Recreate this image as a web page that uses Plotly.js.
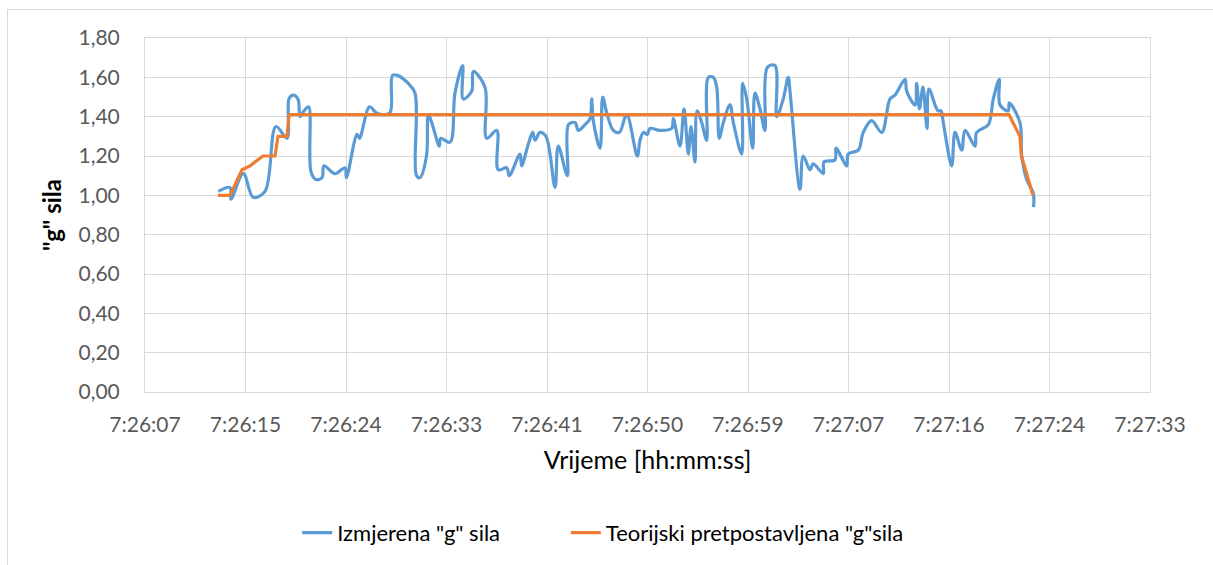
<!DOCTYPE html>
<html>
<head>
<meta charset="utf-8">
<script src="https://cdn.plot.ly/plotly-3.0.1.min.js"></script>
<style>
  html, body { margin: 0; padding: 0; background: #fff; }
  #wrap { position: relative; width: 1213px; height: 565px; overflow: hidden; }
  #chart { width: 1213px; height: 565px; }
  #frame { position: absolute; left: 7px; top: 9px; width: 1300px; height: 700px;
           border-left: 1px solid #D9D9D9; border-top: 1px solid #D9D9D9; pointer-events: none; }
</style>
</head>
<body>
<div id="wrap">
  <div id="chart"></div>
  <div id="frame"></div>
</div>
<script>
// Times are seconds after 7:26:00
const measuredTime = [13.02,14.03,14.11,15.17,16.03,17.04,17.98,18.93,19.10,19.44,19.87,20.05,20.39,20.78,20.99,21.42,21.94,22.11,23.05,23.91,24.04,24.95,25.16,26.02,26.58,27.09,27.78,28.00,28.43,29.33,29.93,30.06,30.36,30.92,31.08,31.37,32.02,32.14,32.94,33.37,34.03,34.08,34.81,34.94,35.95,36.10,36.96,37.09,37.82,38.04,38.96,39.10,39.67,40.05,40.25,40.68,41.19,41.97,42.25,43.03,43.13,43.69,43.97,44.55,44.98,45.12,45.26,45.84,46.07,46.41,46.98,47.50,48.13,49.04,49.28,49.56,49.90,50.13,50.99,52.00,52.14,52.71,53.06,53.43,53.66,54.00,54.18,54.58,55.01,55.15,55.58,55.87,56.09,56.44,57.01,57.30,58.02,58.10,58.45,58.96,59.16,59.59,60.02,60.22,60.88,61.03,61.59,62.02,62.17,63.03,63.31,63.89,64.17,65.03,65.10,66.04,66.13,67.05,67.18,68.04,68.47,69.19,70.05,70.77,71.20,72.06,72.20,72.92,73.06,73.30,73.60,73.95,74.12,74.89,75.15,75.35,76.07,76.36,76.93,77.22,78.08,78.22,79.22,79.65,80.16,80.22,80.94,81.02,81.94,82.09,82.52,83.09,83.11];
const measuredG = [1.02,1.04,0.98,1.11,0.99,1.02,1.35,1.29,1.49,1.51,1.49,1.40,1.43,1.45,1.12,1.08,1.09,1.15,1.11,1.14,1.09,1.31,1.29,1.45,1.42,1.41,1.42,1.61,1.61,1.57,1.52,1.10,1.09,1.20,1.41,1.37,1.25,1.29,1.27,1.52,1.66,1.49,1.53,1.63,1.55,1.29,1.33,1.13,1.14,1.10,1.21,1.15,1.26,1.32,1.28,1.32,1.30,1.04,1.25,1.10,1.36,1.37,1.33,1.36,1.39,1.49,1.38,1.24,1.50,1.42,1.33,1.32,1.41,1.20,1.28,1.32,1.31,1.34,1.33,1.34,1.39,1.25,1.44,1.21,1.35,1.17,1.43,1.37,1.28,1.60,1.60,1.55,1.29,1.37,1.46,1.37,1.21,1.57,1.49,1.24,1.52,1.44,1.33,1.65,1.66,1.40,1.49,1.60,1.53,1.03,1.20,1.13,1.16,1.11,1.17,1.18,1.24,1.15,1.21,1.23,1.32,1.38,1.32,1.49,1.51,1.59,1.53,1.46,1.57,1.44,1.55,1.34,1.54,1.43,1.43,1.37,1.15,1.32,1.23,1.33,1.25,1.32,1.36,1.49,1.59,1.46,1.43,1.47,1.37,1.20,1.08,1.01,0.94];

const theoryTime = [13.00,14.03,15.06,15.75,16.86,17.90,18.15,18.93,19.10,81.00,81.94,82.07,83.06];
const theoryG    = [1.00,1.00,1.13,1.15,1.20,1.20,1.30,1.30,1.41,1.41,1.30,1.20,1.00];

// Excel ticks every 0.0001 day, starting at 0.3098 day (7:26:06.72)
const tickSeconds = [6.72,15.36,24.00,32.64,41.28,49.92,58.56,67.20,75.84,84.48,93.12];
const tickLabels  = ["7:26:07","7:26:15","7:26:24","7:26:33","7:26:41","7:26:50","7:26:59","7:27:07","7:27:16","7:27:24","7:27:33"];

const seriesNames = ['Izmjerena "g" sila', 'Teorijski pretpostavljena "g"sila'];

const FONT = 'Lato, "Open Sans", sans-serif';

const traces = [
  { x: measuredTime, y: measuredG, name: seriesNames[0], type: 'scatter', mode: 'lines', legend: 'legend',
    line: { color: '#5B9BD5', width: 3.2, shape: 'spline', smoothing: 1 } },
  { x: theoryTime, y: theoryG, name: seriesNames[1], type: 'scatter', mode: 'lines', legend: 'legend2',
    line: { color: '#ED7D31', width: 3.2, shape: 'linear' } }
];

const legendBase = {
  orientation: 'h', xref: 'container', yref: 'container',
  xanchor: 'left', y: 0.057, yanchor: 'middle',
  font: { family: FONT, size: 22, color: '#000' },
  bgcolor: 'rgba(0,0,0,0)'
};

const layout = {
  width: 1213, height: 565,
  margin: { l: 145, r: 63, t: 38, b: 173 },
  paper_bgcolor: '#ffffff', plot_bgcolor: '#ffffff',
  separators: ', ',
  font: { family: FONT, color: '#000' },
  showlegend: true,
  xaxis: {
    range: [tickSeconds[0], tickSeconds[tickSeconds.length - 1]],
    tickmode: 'array', tickvals: tickSeconds, ticktext: tickLabels,
    showgrid: true, gridcolor: '#D9D9D9', gridwidth: 1,
    zeroline: false, showline: true, mirror: true, linecolor: '#D9D9D9', linewidth: 1,
    ticks: '', ticklabelstandoff: 14,
    tickfont: { family: FONT, size: 21, color: '#595959' },
    title: { text: 'Vrijeme [hh:mm:ss]', font: { family: FONT, size: 25, color: '#000' }, standoff: 16 }
  },
  yaxis: {
    range: [0, 1.8], dtick: 0.2, tick0: 0, tickformat: '.2f',
    showgrid: true, gridcolor: '#D9D9D9', gridwidth: 1,
    zeroline: false, showline: true, mirror: true, linecolor: '#D9D9D9', linewidth: 1,
    ticks: '', ticklabelstandoff: 20,
    tickfont: { family: FONT, size: 21, color: '#595959' },
    title: { text: '<b>"g" sila</b>', font: { family: FONT, size: 24, color: '#000' }, standoff: 10 }
  },
  legend: Object.assign({}, legendBase, { x: 0.245 }),
  legend2: Object.assign({}, legendBase, { x: 0.4665 })
};

Plotly.newPlot('chart', traces, layout, { displayModeBar: false, staticPlot: true });
</script>
</body>
</html>
